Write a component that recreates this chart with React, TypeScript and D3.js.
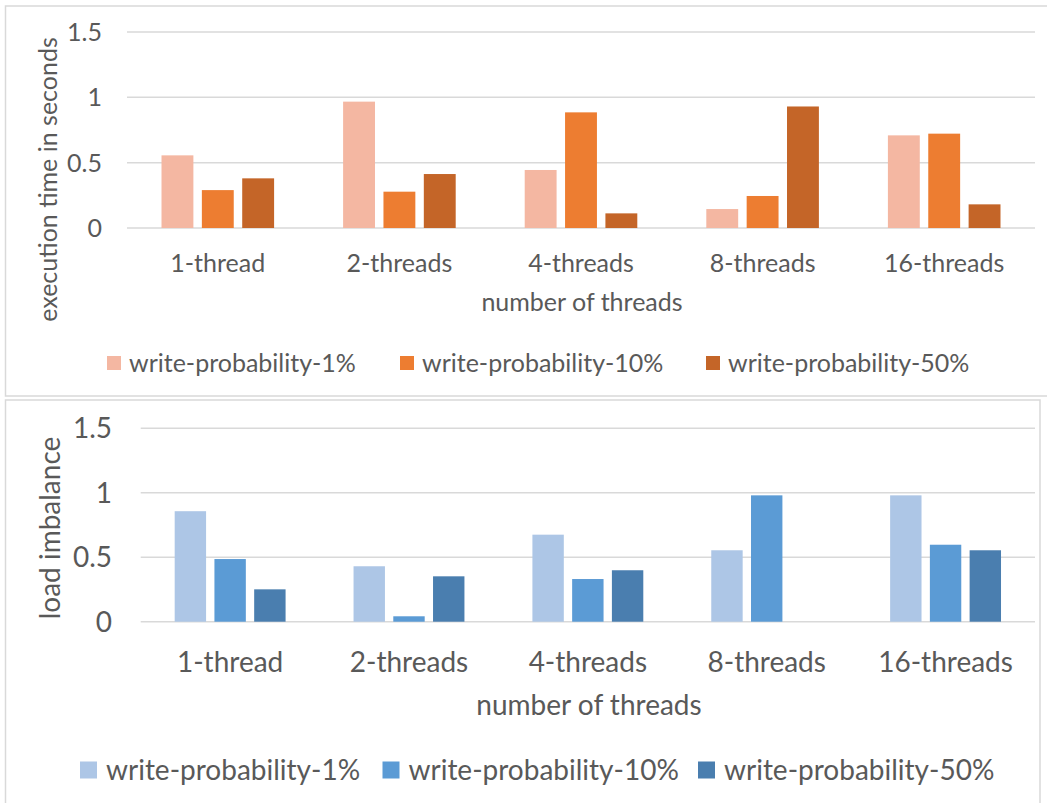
import React from "react";
import * as d3 from "d3";

const categories = ["1-thread", "2-threads", "4-threads", "8-threads", "16-threads"];
const seriesNames = ["write-probability-1%", "write-probability-10%", "write-probability-50%"];

const execTime1 = [0.556, 0.967, 0.444, 0.145, 0.709];
const execTime10 = [0.29, 0.278, 0.885, 0.245, 0.722];
const execTime50 = [0.38, 0.413, 0.112, 0.93, 0.181];

const imbalance1 = [0.857, 0.43, 0.675, 0.554, 0.98];
const imbalance10 = [0.486, 0.042, 0.331, 0.98, 0.597];
const imbalance50 = [0.251, 0.352, 0.399, 0, 0.554];

const yTicks = [0, 0.5, 1, 1.5];
const yTickLabels = ["0", "0.5", "1", "1.5"];

const orangeColors = ["#F4B7A2", "#ED7D31", "#C46528"];
const blueColors = ["#ADC6E6", "#5B9BD5", "#4A7EAF"];

const TEXT = "#595959";
const GRID = "#D9D9D9";
const FONT = "Lato, 'Open Sans', sans-serif";

type PanelProps = {
  series: number[][];
  colors: string[];
  yTitle: string;
  frame: [number, number, number, number];
  left: number;
  right: number;
  y0: number;
  yTop: number;
  fontSize: number;
  tickX: number;
  catLabelY: number;
  axisTitleY: number;
  axisTitleX: number;
  legendY: number;
  legendSwatch: number;
  legendX: number[];
  legendTextGap: number;
  yTitleX: number;
  yTitleY: number;
};

function Panel(p: PanelProps) {
  const x = d3.scaleBand<string>().domain(categories).range([p.left, p.right]).padding(0);
  const y = d3.scaleLinear().domain([0, 1.5]).range([p.y0, p.yTop]);
  const groupW = x.bandwidth() * 0.62;
  const inner = d3
    .scaleBand<number>()
    .domain(d3.range(p.series.length))
    .range([0, groupW])
    .paddingInner(0.21);
  return (
    <g>
      <rect
        x={p.frame[0]}
        y={p.frame[1]}
        width={p.frame[2]}
        height={p.frame[3]}
        fill="#fff"
        stroke={GRID}
        strokeWidth={1.5}
      />
      {yTicks.map((t, i) => (
        <g key={"g" + i}>
          <line x1={p.left} x2={p.right} y1={y(t)} y2={y(t)} stroke={GRID} strokeWidth={1.5} />
          <text
            x={p.tickX}
            y={y(t)}
            dy="0.36em"
            textAnchor="end"
            fontSize={p.fontSize}
            fill={TEXT}
            fontFamily={FONT}
          >
            {yTickLabels[i]}
          </text>
        </g>
      ))}
      {categories.map((c, ci) => {
        const cx = (x(c) as number) + x.bandwidth() / 2;
        const gx = cx - groupW / 2;
        return (
          <g key={c}>
            {p.series.map((s, si) =>
              s[ci] > 0 ? (
                <rect
                  key={si}
                  x={gx + (inner(si) as number)}
                  y={y(s[ci])}
                  width={inner.bandwidth()}
                  height={y(0) - y(s[ci])}
                  fill={p.colors[si]}
                />
              ) : null
            )}
            <text
              x={cx}
              y={p.catLabelY}
              dy="0.36em"
              textAnchor="middle"
              fontSize={p.fontSize}
              fill={TEXT}
              fontFamily={FONT}
            >
              {c}
            </text>
          </g>
        );
      })}
      <text
        x={p.axisTitleX}
        y={p.axisTitleY}
        dy="0.36em"
        textAnchor="middle"
        fontSize={p.fontSize}
        fill={TEXT}
        fontFamily={FONT}
      >
        number of threads
      </text>
      <text
        transform={`translate(${p.yTitleX},${p.yTitleY}) rotate(-90)`}
        dy="0.36em"
        textAnchor="middle"
        fontSize={p.fontSize}
        fill={TEXT}
        fontFamily={FONT}
      >
        {p.yTitle}
      </text>
      {seriesNames.map((n, i) => (
        <g key={n}>
          <rect
            x={p.legendX[i]}
            y={p.legendY - p.legendSwatch / 2}
            width={p.legendSwatch}
            height={p.legendSwatch}
            fill={p.colors[i]}
          />
          <text
            x={p.legendX[i] + p.legendSwatch + p.legendTextGap}
            y={p.legendY}
            dy="0.36em"
            fontSize={p.fontSize}
            fill={TEXT}
            fontFamily={FONT}
          >
            {n}
          </text>
        </g>
      ))}
    </g>
  );
}

export default function App() {
  return (
    <div style={{ position: "fixed", left: 0, top: 0, width: 1047, height: 803, background: "#fff" }}>
      <svg width={1047} height={803} style={{ display: "block" }}>
        <rect x={0} y={0} width={1047} height={803} fill="#fff" />
        <Panel
          series={[execTime1, execTime10, execTime50]}
          colors={orangeColors}
          yTitle="execution time in seconds"
          frame={[5.5, 6, 1050, 390]}
          left={127}
          right={1035}
          y0={228}
          yTop={32}
          fontSize={25}
          tickX={102}
          catLabelY={263}
          axisTitleX={582}
          axisTitleY={302}
          legendY={363}
          legendSwatch={14}
          legendX={[107, 400, 706]}
          legendTextGap={8}
          yTitleX={48}
          yTitleY={179.5}
        />
        <Panel
          series={[imbalance1, imbalance10, imbalance50]}
          colors={blueColors}
          yTitle="load imbalance"
          frame={[5.5, 400, 1034.5, 420]}
          left={140.7}
          right={1035}
          y0={621.7}
          yTop={428.3}
          fontSize={28}
          tickX={112}
          catLabelY={662}
          axisTitleX={589}
          axisTitleY={705}
          legendY={770}
          legendSwatch={17}
          legendX={[80, 382.5, 698]}
          legendTextGap={9}
          yTitleX={50}
          yTitleY={528}
        />
      </svg>
    </div>
  );
}
